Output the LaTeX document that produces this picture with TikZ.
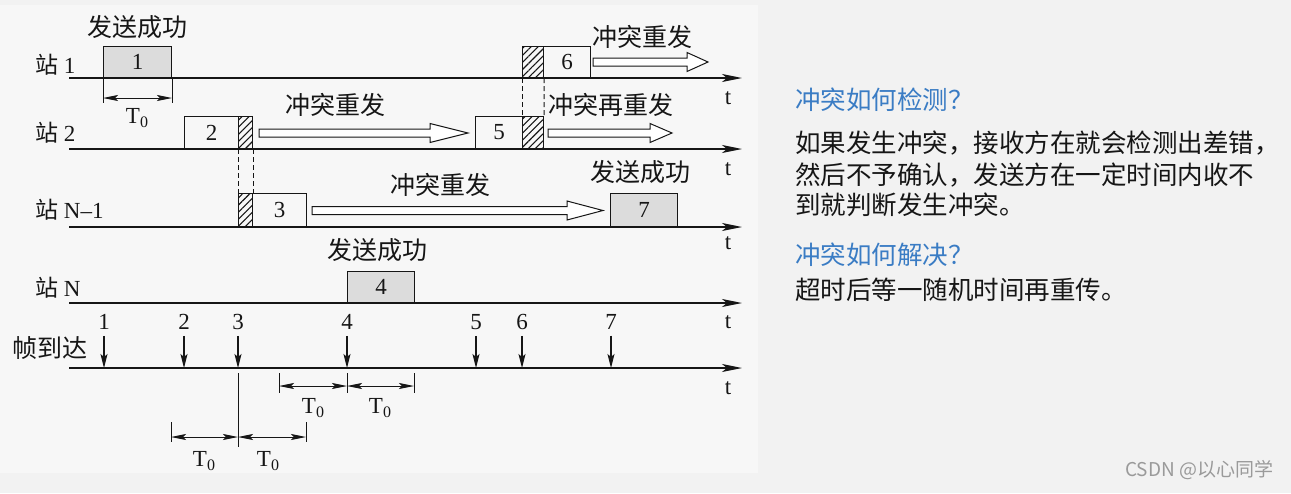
\documentclass[tikz,border=0pt]{standalone}
\usepackage{fontspec}
\setmainfont{Liberation Serif}
\newfontfamily\cjk{Noto Sans CJK SC}
\usetikzlibrary{arrows.meta,patterns.meta}
\definecolor{bgall}{HTML}{F2F2F2}
\definecolor{bgpanel}{HTML}{F7F7F7}
\definecolor{boxgray}{HTML}{DCDCDC}
\definecolor{ink}{HTML}{161616}
\definecolor{headblue}{HTML}{3A7CC4}
\definecolor{wmgray}{HTML}{9A9A9A}
\newcommand\hollowarr[4]{%
  \draw[line width=1pt, draw=ink, fill=white] (#1,#4-4) -- (#2,#4-4) -- (#2,#4-9.5) -- (#3,#4) -- (#2,#4+9.5) -- (#2,#4+4) -- (#1,#4+4) -- cycle;}
\newcommand\Tzero{T\raisebox{-0.35ex}{\fontsize{16}{16}\selectfont 0}}
\tikzset{
  axisline/.style={line width=1.6pt, draw=ink, -{Stealth[length=20pt,width=8pt,inset=5pt]}},
  frm/.style={draw=ink, line width=1pt, inner sep=0pt, anchor=south west, text=ink, font=\fontsize{23}{23}\selectfont},
  okfrm/.style={frm, fill=boxgray},
  hatchbox/.style={draw=ink, line width=1pt, inner sep=0pt, anchor=south west, minimum width=14pt, pattern={Lines[angle=45,distance=5pt,line width=1.1pt]}, pattern color=ink},
  cjklbl/.style={inner sep=0pt, text=ink, font=\cjk\fontsize{25}{25}\selectfont},
  latlbl/.style={inner sep=0pt, text=ink, font=\fontsize{23}{23}\selectfont},
  stlbl/.style={inner sep=0pt, anchor=west, text=ink, font=\fontsize{23}{23}\selectfont},
  dimline/.style={line width=1pt, draw=ink, {Stealth[length=15pt,width=6pt,inset=3pt]}-{Stealth[length=15pt,width=6pt,inset=3pt]}},
  tick/.style={line width=1pt, draw=ink},
  farrow/.style={line width=1.2pt, draw=ink, -{Stealth[length=14pt,width=7pt,inset=3pt]}},
  dashln/.style={line width=1pt, draw=ink, dash pattern=on 5pt off 3pt},
  rtext/.style={inner sep=0pt, anchor=west, text=ink, font=\cjk\fontsize{25.5}{25.5}\selectfont},
  rhead/.style={rtext, text=headblue},
}
\begin{document}
\begin{tikzpicture}[x=1pt,y=-1pt]
\useasboundingbox (0,0) rectangle (1291,493);
\fill[bgall] (0,0) rectangle (1291,493);
\fill[bgpanel] (0,5) rectangle (758,473);

% ---------- station labels ----------
\node[stlbl] (l1) at (35,65) {{\cjk 站} 1};
\node[stlbl] (l2) at (35,133) {{\cjk 站} 2};
\node[stlbl] (l3) at (35,210) {{\cjk 站} N--1};
\node[stlbl] (l4) at (35,288) {{\cjk 站} N};
\node[stlbl, font=\cjk\fontsize{25}{25}\selectfont] (l5) at (12,348) {帧到达};

% ---------- axes ----------
\foreach \n/\y in {1/78,2/149,3/227,4/303,5/368}{
  \coordinate (ax\n s) at (69,\y);
  \coordinate (ax\n e) at (742,\y);
  \draw[axisline] (ax\n s) -- (ax\n e);
}
\foreach \n/\y in {1/98,2/169,3/243,4/322,5/388}{
  \node[latlbl] (t\n) at (728,\y) {t};
}

% ---------- station 1 ----------
\node[okfrm, minimum width=68pt, minimum height=31pt] (b1) at (103,78) {1};
\node[cjklbl] (s1) at (137,27) {发送成功};
\draw[tick] (b1.south west) -- ++(0,25) coordinate (d1a);
\draw[tick] (b1.south east) -- ++(0,25) coordinate (d1b);
\draw[dimline] ([yshift=5pt]d1a) -- ([yshift=5pt]d1b);
\node[latlbl] (T1) at (137,118) {\Tzero};

\node[hatchbox, minimum width=21pt, minimum height=31pt] (h6) at (522,78) {};
\node[frm, minimum width=47pt, minimum height=31pt] (b6) at (543,78) {6};
\hollowarr{593}{687}{708}{62}
\node[cjklbl] (c6) at (642,37) {冲突重发};

% ---------- station 2 ----------
\node[frm, minimum width=54pt, minimum height=32pt] (b2) at (184,149) {2};
\node[hatchbox, minimum height=32pt] (h2) at (238,149) {};
\hollowarr{259}{430}{468}{133}
\node[cjklbl] (c2) at (335,105) {冲突重发};

\node[frm, minimum width=47pt, minimum height=32pt] (b5) at (475,149) {5};
\node[hatchbox, minimum width=21pt, minimum height=32pt] (h5) at (522,149) {};
\hollowarr{548}{650}{672}{133}
\node[cjklbl] (c5) at (611,105) {冲突再重发};

\draw[dashln] (h6.south west) -- (h5.north west);
\draw[dashln] (h6.south east) -- (h5.north east);

% ---------- station N-1 ----------
\node[hatchbox, minimum height=33pt] (h3) at (238,227) {};
\node[frm, minimum width=54pt, minimum height=33pt] (b3) at (252,227) {3};
\hollowarr{312}{567}{603}{210.5}
\node[cjklbl] (c3) at (440,185) {冲突重发};
\node[okfrm, minimum width=67pt, minimum height=33pt] (b7) at (610,227) {7};
\node[cjklbl] (s7) at (640,172) {发送成功};

\draw[dashln] (h2.south west) -- (h3.north west);
\draw[dashln] (h2.south east) -- (h3.north east);

% ---------- station N ----------
\node[okfrm, minimum width=67pt, minimum height=31pt] (b4) at (347,303) {4};
\node[cjklbl] (s4) at (377,250) {发送成功};

% ---------- frame arrivals ----------
\foreach \k/\x in {1/104,2/184,3/238,4/347,5/476,6/522,7/611}{
  \node[latlbl] (n\k) at (\x,322) {\k};
  \draw[farrow] ([yshift=-6pt]n\k.south) -- (n\k |- ax5s);
}

% ---------- bottom dimensions ----------
\coordinate (v3a) at (238,373);
\coordinate (v3b) at (238,447);
\draw[tick] (v3a) -- (v3b);

\coordinate (u1) at (279,386);
\coordinate (u2) at (347,386);
\coordinate (u3) at (414,386);
\draw[tick] ([yshift=13pt]u1) -- ([yshift=-7pt]u1);
\draw[tick] ([yshift=13pt]u2) -- ([yshift=-7pt]u2);
\draw[tick] ([yshift=13pt]u3) -- ([yshift=-7pt]u3);
\draw[dimline] (u1) -- (u2);
\draw[dimline] (u2) -- (u3);
\node[latlbl] (T2) at (313,408) {\Tzero};
\node[latlbl] (T3) at (380,408) {\Tzero};

\coordinate (w1) at (171,437);
\coordinate (w2) at (238,437);
\coordinate (w3) at (306,437);
\draw[tick] ([yshift=15pt]w1) -- ([yshift=-5pt]w1);
\draw[tick] ([yshift=15pt]w3) -- ([yshift=-5pt]w3);
\draw[dimline] (w1) -- (w2);
\draw[dimline] (w2) -- (w3);
\node[latlbl] (T4) at (204,461) {\Tzero};
\node[latlbl] (T5) at (268,461) {\Tzero};

% ---------- right text ----------
\node[rhead] (q1) at (795,100) {冲突如何检测？};
\node[rtext] (p1) at (795,143) {如果发生冲突，接收方在就会检测出差错，};
\node[rtext] (p2) at (795,175) {然后不予确认，发送方在一定时间内收不};
\node[rtext] (p3) at (795,205) {到就判断发生冲突。};
\node[rhead] (q2) at (795,255) {冲突如何解决？};
\node[rtext] (p4) at (795,290) {超时后等一随机时间再重传。};

\node[inner sep=0pt, anchor=west, text=wmgray, font=\cjk\fontsize{19}{19}\selectfont] (wm) at (1125,470) {CSDN @以心同学};
\end{tikzpicture}
\end{document}
